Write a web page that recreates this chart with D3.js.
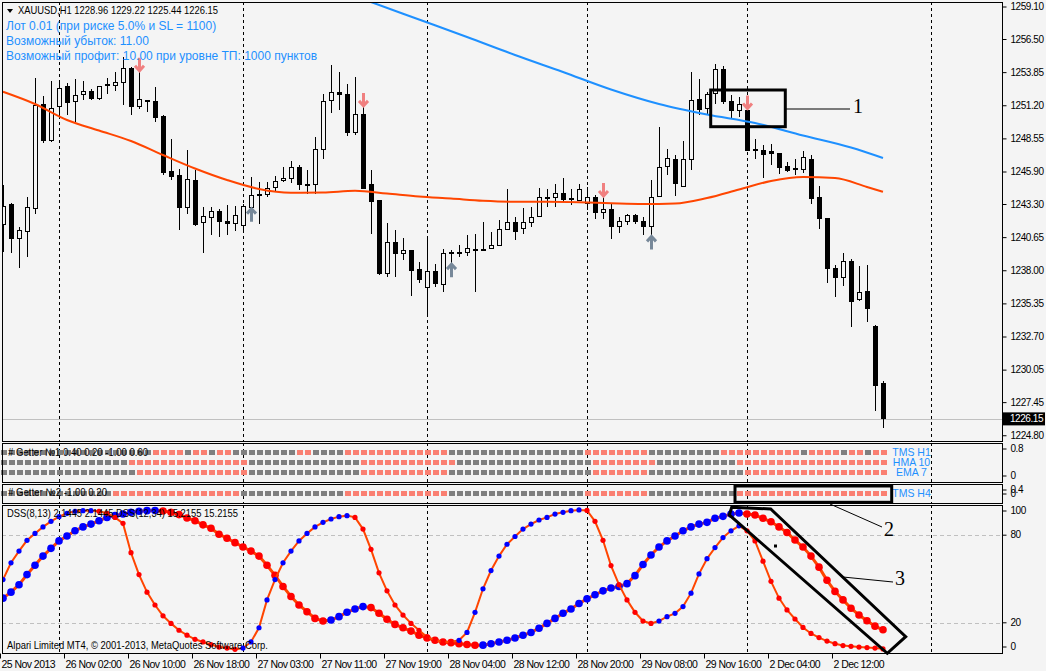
<!DOCTYPE html>
<html>
<head>
<meta charset="utf-8">
<script src="https://cdn.jsdelivr.net/npm/d3@7"></script>
<style>
  body { margin: 0; background: #f4f4f4; }
  svg { display: block; }
  text { font-family: "Liberation Sans", Arial, sans-serif; font-size: 11px; }
</style>
</head>
<body>
<svg id="chart"></svg>
<script>
// ---- data ----
const candleOpen = [1241.69,1243.32,1240.57,1241.13,1242.97,1251.33,1248.44,1251.11,1252.77,1251.51,1252.10,1252.34,1251.75,1252.93,1252.79,1253.07,1254.19,1251.11,1251.65,1251.57,
  1250.31,1245.96,1245.64,1243.10,1245.24,1241.90,1242.30,1242.75,1241.95,1241.77,1241.63,1243.10,1244.09,1244.09,1244.65,1245.21,1245.37,1246.30,1244.92,1244.89,
  1247.70,1251.59,1252.26,1252.10,1249.03,1250.53,1244.92,1243.63,1237.81,1240.25,1239.41,1239.63,1238.08,1236.69,1237.92,1236.88,1239.47,1239.50,1239.49,1239.70,
  1239.68,1239.77,1240.03,1241.29,1241.90,1241.37,1241.90,1242.35,1243.85,1243.85,1244.17,1243.82,1243.63,1243.37,1243.85,1242.65,1242.89,1241.58,1241.98,1242.41,
  1241.95,1241.58,1243.96,1246.36,1246.94,1244.78,1246.94,1251.70,1250.98,1252.18,1254.11,1251.51,1250.79,1250.85,1247.72,1247.64,1247.51,1247.38,1246.36,1246.20,
  1246.10,1246.90,1243.90,1242.17,1238.16,1237.49,1238.72,1235.68,1236.34,1233.54,1228.96]
const candleHigh = [1244.84,1243.45,1241.50,1243.90,1253.39,1252.00,1253.17,1253.20,1252.99,1253.31,1253.17,1252.51,1252.80,1253.39,1253.92,1255.10,1254.32,1253.92,1251.70,1252.71,
  1250.45,1248.58,1246.18,1247.64,1246.10,1243.10,1243.10,1242.97,1243.23,1243.15,1243.37,1245.50,1245.10,1245.10,1245.56,1246.30,1246.76,1246.44,1246.04,1248.71,
  1252.18,1254.45,1253.92,1252.93,1253.52,1251.11,1246.10,1243.65,1241.85,1241.29,1240.65,1239.65,1238.69,1240.70,1238.57,1239.77,1239.63,1240.03,1240.89,1240.97,
  1241.90,1241.10,1242.09,1244.57,1242.30,1243.02,1243.10,1244.62,1244.57,1244.97,1245.45,1244.57,1244.97,1244.70,1244.04,1243.90,1243.31,1242.30,1242.57,1242.57,
  1242.30,1245.24,1249.51,1247.78,1247.24,1248.36,1253.92,1253.33,1252.31,1254.53,1254.37,1252.05,1251.91,1250.90,1248.58,1248.04,1248.18,1247.40,1246.70,1246.92,
  1247.59,1247.24,1244.76,1242.25,1238.43,1239.44,1238.96,1238.35,1238.43,1233.70,1229.22]
const candleLow = [1239.49,1239.41,1238.24,1239.09,1242.57,1248.23,1248.31,1250.30,1250.45,1249.91,1251.70,1251.70,1251.70,1252.18,1252.39,1251.25,1250.45,1250.98,1250.71,1249.91,
  1245.69,1245.24,1241.23,1242.51,1241.60,1239.41,1240.83,1240.70,1240.83,1241.18,1241.02,1243.05,1241.77,1243.90,1244.30,1245.10,1245.02,1244.44,1244.17,1244.17,
  1246.98,1250.63,1250.85,1248.76,1248.84,1244.57,1240.97,1237.63,1237.49,1237.49,1238.83,1236.02,1237.01,1234.28,1236.69,1236.29,1238.61,1239.09,1239.17,1236.29,
  1239.60,1239.75,1240.00,1241.23,1240.43,1240.97,1241.50,1242.30,1243.10,1243.10,1243.50,1243.23,1243.60,1242.83,1242.17,1242.17,1240.57,1241.02,1241.70,1241.77,
  1240.83,1240.83,1243.90,1245.64,1243.96,1244.76,1246.04,1250.45,1250.45,1251.38,1251.38,1250.18,1250.31,1247.60,1246.98,1245.45,1246.44,1245.77,1245.90,1245.64,
  1245.82,1243.31,1241.37,1237.01,1235.94,1236.77,1233.48,1235.57,1233.88,1226.81,1225.44]
const candleClose = [1243.18,1240.57,1241.21,1243.05,1251.25,1248.44,1250.98,1252.59,1251.43,1252.02,1252.34,1251.75,1252.71,1252.79,1253.07,1254.19,1251.11,1251.70,1251.51,1250.23,
  1245.90,1245.58,1243.10,1245.32,1241.71,1242.35,1242.75,1241.95,1241.77,1242.43,1243.18,1244.04,1244.01,1244.57,1245.13,1245.37,1246.30,1244.89,1244.86,1247.70,
  1251.51,1252.26,1252.10,1249.03,1250.53,1244.62,1243.58,1237.81,1240.29,1239.41,1239.63,1238.03,1237.31,1237.92,1236.96,1239.36,1239.36,1239.46,1239.77,1239.68,
  1239.70,1240.03,1241.29,1241.90,1241.18,1241.90,1242.25,1243.85,1243.87,1244.17,1243.69,1243.69,1244.49,1243.85,1242.65,1242.89,1241.58,1241.98,1242.41,1241.95,
  1241.58,1243.90,1246.30,1247.02,1244.97,1246.94,1251.65,1250.90,1252.13,1254.11,1251.51,1250.79,1251.30,1247.64,1247.68,1247.32,1247.38,1246.30,1246.04,1246.10,
  1247.06,1243.77,1242.17,1238.16,1237.49,1238.72,1235.57,1236.24,1235.00,1228.80,1226.15]

// moving averages, [bar, price]
const maOrange = [[0,1252.32],[4,1251.34],[8,1250.06],[12,1249.22],[16,1248.38],[20,1247.26],[24,1246.18],[28,1245.26],[32,1244.54],[36,1244.24],
  [40,1244.26],[44,1244.40],[48,1244.18],[52,1243.94],[56,1243.78],[60,1243.60],[64,1243.52],[68,1243.52],[72,1243.48],[76,1243.40],[80,1243.34],
  [84,1243.38],[88,1243.82],[92,1244.50],[96,1245.18],[100,1245.50],[104,1245.42],[108,1244.70],[110,1244.32]]
const maBlue = [[40,1260.94],[46,1259.50],[52,1258.10],[58,1256.70],[64,1255.26],[70,1253.90],[76,1252.50],[82,1251.34],[88,1250.50],[94,1249.82],
  [100,1248.82],[106,1247.86],[110,1247.02]]

const downArrowBars = [17, 45, 75, 93]
const upArrowBars = [31, 56, 81]

const priceTicks = [1259.10,1256.50,1253.85,1251.20,1248.55,1245.90,1243.30,1240.65,1238.00,1235.35,1232.70,1230.05,1227.45,1224.80]
const timeTickBars = [0,8,16,24,32,40,48,56,64,72,80,88,96,104]
const timeTickLabels = ['25 Nov 2013','26 Nov 02:00','26 Nov 10:00','26 Nov 18:00','27 Nov 03:00','27 Nov 11:00','27 Nov 19:00',
  '28 Nov 04:00','28 Nov 12:00','28 Nov 20:00','29 Nov 08:00','29 Nov 16:00','2 Dec 04:00','2 Dec 12:00']
const daySeparatorBars = [7, 30, 53, 73, 93, 116]

// getter rows as runs of [state, bars]; 1 = salmon, 0 = gray
const tmsH1Runs = [[0,19],[1,4],[0,1],[1,2],[0,1],[1,2],[0,8],[1,2],[0,4],[1,13],[0,17],[1,8],[0,9],[1,10],[0,1],[1,4],[0,1],[1,2],[0,1],[1,2]]
const hma10Runs = [[0,16],[1,15],[0,14],[1,12],[0,17],[1,8],[0,10],[1,19]]
const ema7Runs  = [[0,17],[1,14],[0,14],[1,11],[0,18],[1,7],[0,12],[1,18]]
const tmsH4Runs = [[0,14],[1,16],[0,13],[1,13],[0,17],[1,8],[0,11],[1,19]]

const dssFast = [49.6,61.1,69.1,76.5,81.2,85.7,89.5,92.7,95.0,96.4,96.8,96.8,96.4,95.0,92.2,88.1,68.0,53.0,41.0,32.2,
  24.8,19.6,14.9,11.5,8.7,6.9,5.1,3.4,2.7,1.8,2.7,6.9,16.6,35.7,49.6,61.1,69.1,76.1,81.2,85.7,
  88.8,91.1,92.7,93.4,92.2,84.2,70.3,54.2,41.9,32.2,25.3,19.6,14.9,10.3,8.0,6.9,6.8,8.0,13.4,27.2,
  43.3,55.8,65.7,73.8,79.1,84.2,87.6,90.4,92.2,94.5,95.7,96.8,97.3,97.0,89.5,76.5,59.2,46.1,35.7,27.2,
  21.2,19.6,21.2,24.2,26.5,31.1,40.3,53.5,63.9,71.5,78.4,83.0,86.4,83.0,76.1,62.2,48.4,36.9,28.8,22.6,
  16.8,12.7,9.9,7.5,5.7,4.4,3.9,3.4,3.0,2.7,2.14]
const dssSlow = [36.9,41.0,46.1,53.0,59.4,65.7,71.0,76.1,79.5,83.0,85.7,87.6,89.9,92.2,93.4,94.5,95.7,96.4,96.8,96.9,
  96.6,95.7,94.1,91.8,89.9,87.1,84.8,80.7,77.9,74.9,71.9,69.1,65.7,59.4,52.5,44.9,38.0,32.2,27.6,23.0,
  21.2,21.9,24.2,27.2,29.5,31.1,30.4,26.5,22.4,18.9,16.6,14.3,11.5,9.6,8.0,6.9,6.4,5.7,5.1,4.6,
  4.7,5.7,6.9,8.0,9.6,11.5,13.4,16.3,19.6,23.0,26.5,29.5,33.2,36.4,39.2,41.9,43.8,44.9,46.8,52.3,
  59.9,66.4,71.9,76.1,79.5,83.0,85.7,87.6,88.8,91.6,92.9,94.5,95.2,94.5,93.8,91.6,89.2,85.7,81.9,76.7,
  71.9,65.7,58.1,49.1,41.5,35.7,30.0,25.3,21.4,17.7,15.22]

const infoLines = ['Лот 0.01 (при риске 5.0% и SL = 1100)', 'Возможный убыток: 11.00', 'Возможный профит: 10.00 при уровне ТП: 1000 пунктов']

// ---- layout ----
const W = 1046, H = 671
const BG = '#f4f4f4'
const L = 2, R = 1002
const panels = {
  main: [2, 441],
  p1: [443, 482],
  p2: [484, 503],
  dss: [505, 653]
}
const SALMON = '#fa8072', GRAY = '#808080', BLUE_TXT = '#1e90ff'

const svg = d3.select('#chart').attr('width', W).attr('height', H)
svg.append('rect').attr('width', W).attr('height', H).attr('fill', BG)

const x = d3.scaleLinear().domain([0, 110]).range([3, 883])
const yMain = d3.scaleLinear().domain([1224.80, 1259.10]).range([435.75, 7])
const yP1 = d3.scaleLinear().domain([0, 0.8]).range([482, 443])
const yP2 = d3.scaleLinear().domain([0, 0.4]).range([503, 484])
const yDss = d3.scaleLinear().domain([0, 100]).range([652, 506])

// terminal font is narrower than Arial: squeeze a text into a given width
function fitTo(sel, width) {
  sel.attr('textLength', width).attr('lengthAdjust', 'spacingAndGlyphs')
}

const defs = svg.append('defs')
Object.entries(panels).forEach(([k, p]) => {
  defs.append('clipPath').attr('id', 'clip-' + k)
    .append('rect').attr('x', L).attr('y', p[0]).attr('width', R - L).attr('height', p[1] - p[0])
})

// day separators
Object.entries(panels).forEach(([k, p]) => {
  svg.append('g').selectAll('line').data(daySeparatorBars).enter().append('line')
    .attr('x1', d => Math.round(x(d)) + 0.5).attr('x2', d => Math.round(x(d)) + 0.5)
    .attr('y1', p[0]).attr('y2', p[1])
    .attr('stroke', '#000').attr('stroke-dasharray', '3,3')
})

// ---- main panel ----
const gMain = svg.append('g').attr('clip-path', 'url(#clip-main)')
const lastClose = candleClose[candleClose.length - 1]
gMain.append('line')
  .attr('x1', L).attr('x2', R)
  .attr('y1', Math.round(yMain(lastClose)) + 0.5).attr('y2', Math.round(yMain(lastClose)) + 0.5)
  .attr('stroke', '#c0c0c0')

const bars = candleOpen.map((o, i) => ({ i, o, h: candleHigh[i], l: candleLow[i], c: candleClose[i] }))
const candle = gMain.append('g').attr('shape-rendering', 'crispEdges')
  .selectAll('g').data(bars).enter().append('g')
candle.append('line')
  .attr('x1', d => x(d.i) + 0.5).attr('x2', d => x(d.i) + 0.5)
  .attr('y1', d => yMain(d.h)).attr('y2', d => yMain(d.l))
  .attr('stroke', '#000')
candle.append('rect')
  .attr('x', d => x(d.i) - 1.5)
  .attr('y', d => yMain(Math.max(d.o, d.c)))
  .attr('width', 4)
  .attr('height', d => Math.max(1, Math.abs(yMain(d.o) - yMain(d.c))))
  .attr('fill', d => d.c >= d.o ? BG : '#000')
  .attr('stroke', '#000')

const maLine = d3.line().x(d => x(d[0])).y(d => yMain(d[1])).curve(d3.curveMonotoneX)
gMain.append('path').datum(maOrange).attr('d', maLine)
  .attr('fill', 'none').attr('stroke', '#ff4500').attr('stroke-width', 2)
gMain.append('path').datum(maBlue).attr('d', maLine)
  .attr('fill', 'none').attr('stroke', '#1e90ff').attr('stroke-width', 2)

// signal arrows
gMain.append('g').selectAll('path').data(downArrowBars).enter().append('path')
  .attr('d', i => {
    const cx = x(i) + 0.5, b = yMain(candleHigh[i]) - 1, t = b - 13
    return `M${cx},${t}V${b}M${cx - 4.5},${b - 5}L${cx},${b}L${cx + 4.5},${b - 5}`
  })
  .attr('fill', 'none').attr('stroke', '#f08080').attr('stroke-width', 3)
gMain.append('g').selectAll('path').data(upArrowBars).enter().append('path')
  .attr('d', i => {
    const cx = x(i) + 0.5, t = yMain(candleLow[i]) + 1, b = t + 13
    return `M${cx},${b}V${t}M${cx - 4.5},${t + 5}L${cx},${t}L${cx + 4.5},${t + 5}`
  })
  .attr('fill', 'none').attr('stroke', '#778899').attr('stroke-width', 3)

// header texts
svg.append('path').attr('d', 'M7,9L13,9L10,13Z').attr('fill', '#000')
svg.append('text').attr('x', 18).attr('y', 11).attr('dominant-baseline', 'middle')
  .text('XAUUSD,H1  1228.96 1229.22 1225.44 1226.15').call(fitTo, 200)
svg.append('g').selectAll('text').data(infoLines).enter().append('text')
  .attr('x', 6).attr('y', (d, i) => 26.5 + i * 15.2).attr('dominant-baseline', 'middle')
  .style('font-size', '12px')
  .attr('fill', BLUE_TXT).text(d => d)

// ---- getter panels ----
const expand = runs => runs.flatMap(([s, n]) => d3.range(n).map(() => s))
const getterRows = [
  { name: 'TMS H1', states: expand(tmsH1Runs), y: yP1(0.6) },
  { name: 'HMA 10', states: expand(hma10Runs), y: yP1(0.4) },
  { name: 'EMA 7', states: expand(ema7Runs), y: yP1(0.2) },
  { name: 'TMS H4', states: expand(tmsH4Runs), y: yP2(0.2) }
]
const gGet = svg.append('g').attr('shape-rendering', 'crispEdges')
getterRows.forEach(row => {
  gGet.append('g').selectAll('rect').data(row.states).enter().append('rect')
    .attr('x', (d, i) => x(i) - 2).attr('y', row.y - 2.5)
    .attr('width', 5.5).attr('height', 5)
    .attr('fill', d => d ? SALMON : GRAY)
  svg.append('text').attr('x', 911.5).attr('y', row.y + 0.5).attr('text-anchor', 'middle')
    .attr('dominant-baseline', 'middle').style('font-size', '10.5px')
    .attr('fill', BLUE_TXT).text(row.name)
})
svg.append('text').attr('x', 8).attr('y', yP1(0.6)).attr('dominant-baseline', 'middle')
  .text('# Getter №1 0.40 0.20 -1.00 0.60').call(fitTo, 140)
svg.append('text').attr('x', 8).attr('y', yP2(0.2)).attr('dominant-baseline', 'middle')
  .text('# Getter №2 -1.00 0.20').call(fitTo, 99)

// ---- DSS panel ----
const gDss = svg.append('g').attr('clip-path', 'url(#clip-dss)')
gDss.append('g').selectAll('line').data([80, 20]).enter().append('line')
  .attr('x1', L).attr('x2', R)
  .attr('y1', d => Math.round(yDss(d)) + 0.5).attr('y2', d => Math.round(yDss(d)) + 0.5)
  .attr('stroke', '#c0c0c0').attr('stroke-dasharray', '4,3')

const dssLine = d3.line().x((d, i) => x(i)).y(d => yDss(d))
function drawDss(values, width, r) {
  gDss.append('path').datum(values).attr('d', dssLine)
    .attr('fill', 'none').attr('stroke', '#ff4500').attr('stroke-width', width)
  gDss.append('g').selectAll('circle').data(values).enter().append('circle')
    .attr('cx', (d, i) => x(i)).attr('cy', d => yDss(d)).attr('r', r)
    .attr('fill', (d, i) => {
      const rising = i > 0 ? d >= values[i - 1] : values[1] >= d
      return rising ? '#0000ff' : '#ff0000'
    })
}
drawDss(dssSlow, 3, 3.8)
drawDss(dssFast, 2, 2.6)

svg.append('text').attr('x', 7).attr('y', 514).attr('dominant-baseline', 'middle')
  .text('DSS(8,13) 2.1445 2.1445  DSS(12,34) 15.2155 15.2155').call(fitTo, 231)
svg.append('text').attr('x', 7).attr('y', 646).attr('dominant-baseline', 'middle')
  .text('Alpari Limited MT4, © 2001-2013, MetaQuotes Software Corp.').call(fitTo, 261)

// ---- frames ----
Object.values(panels).forEach(p => {
  svg.append('rect').attr('x', L + 0.5).attr('y', p[0] + 0.5)
    .attr('width', R - L).attr('height', p[1] - p[0])
    .attr('fill', 'none').attr('stroke', '#000').attr('shape-rendering', 'crispEdges')
})

// ---- right axes ----
function rightAxis(scale, values, fmt, p) {
  const g = svg.append('g').attr('transform', `translate(${R + 0.5},0)`)
    .call(d3.axisRight(scale).tickValues(values).tickFormat(fmt).tickSize(4).tickPadding(4))
  g.select('.domain').remove()
  g.selectAll('.tick').attr('transform', d => `translate(0,${Math.max(p[0] + 6, Math.min(p[1] - 6, scale(d)))})`)
  g.selectAll('text').attr('fill', '#000').style('font-size', '10px').style('letter-spacing', '-0.45px')
    .style('font-family', '"Liberation Sans", Arial, sans-serif')
  g.selectAll('line').attr('stroke', '#000')
  return g
}
rightAxis(yMain, priceTicks, d3.format('.2f'), [0, 446])
rightAxis(yP1, [0.8, 0], d => d === 0 ? '0' : d3.format('.1f')(d), panels.p1)
rightAxis(yP2, [0.4, 0], d => d === 0 ? '0' : d3.format('.1f')(d), [484, 500])
rightAxis(yDss, [100, 80, 20, 0], d3.format('d'), panels.dss)

// current price marker
const yc = yMain(lastClose)
svg.append('rect').attr('x', R + 1).attr('y', yc - 6.5).attr('width', 42).attr('height', 13).attr('fill', '#000')
svg.append('text').attr('x', R + 8).attr('y', yc).attr('dominant-baseline', 'middle')
  .style('font-size', '10px').style('letter-spacing', '-0.45px')
  .attr('fill', '#fff').text(d3.format('.2f')(lastClose))

// ---- time axis ----
const gTime = svg.append('g').attr('transform', `translate(0,${panels.dss[1] + 0.5})`)
  .call(d3.axisBottom(x).tickValues(timeTickBars).tickFormat((d, i) => timeTickLabels[i]).tickSize(5).tickPadding(2))
gTime.select('.domain').remove()
gTime.selectAll('.tick').attr('transform', d => `translate(${x(d) - 2.5},0)`)
gTime.selectAll('line').attr('stroke', '#000')
gTime.selectAll('text').attr('text-anchor', 'start').attr('x', 1).attr('fill', '#000')
  .style('font-size', '10.5px').style('letter-spacing', '-0.55px')
  .style('font-family', '"Liberation Sans", Arial, sans-serif')

// ---- hand drawn annotations (pixel overlay) ----
const ann = svg.append('g').attr('fill', 'none').attr('stroke', '#000')
ann.append('rect').attr('x', 710.7).attr('y', 90).attr('width', 74.6).attr('height', 36.7).attr('stroke-width', 3)
ann.append('line').attr('x1', 785).attr('y1', 109).attr('x2', 850).attr('y2', 109)
ann.append('rect').attr('x', 735).attr('y', 486).attr('width', 156.7).attr('height', 16.3).attr('stroke-width', 3)
ann.append('line').attr('x1', 830).attr('y1', 504).attr('x2', 882).attr('y2', 527)
ann.append('path').attr('d', 'M731.7,507.3L770.7,509L905.7,636.7L887.3,653.3L729.3,515Z').attr('stroke-width', 3)
ann.append('line').attr('x1', 843).attr('y1', 577).attr('x2', 893).attr('y2', 582)
svg.append('rect').attr('x', 774).attr('y', 544.5).attr('width', 3).attr('height', 3).attr('fill', '#000')
const numbers = [['1', 858, 108], ['2', 889, 531], ['3', 900, 580]]
svg.append('g').selectAll('text').data(numbers).enter().append('text')
  .attr('x', d => d[1]).attr('y', d => d[2]).attr('text-anchor', 'middle').attr('dominant-baseline', 'middle')
  .style('font-family', '"Liberation Serif", "DejaVu Serif", serif').style('font-size', '20px')
  .attr('fill', '#000').text(d => d[0])
</script>
</body>
</html>
